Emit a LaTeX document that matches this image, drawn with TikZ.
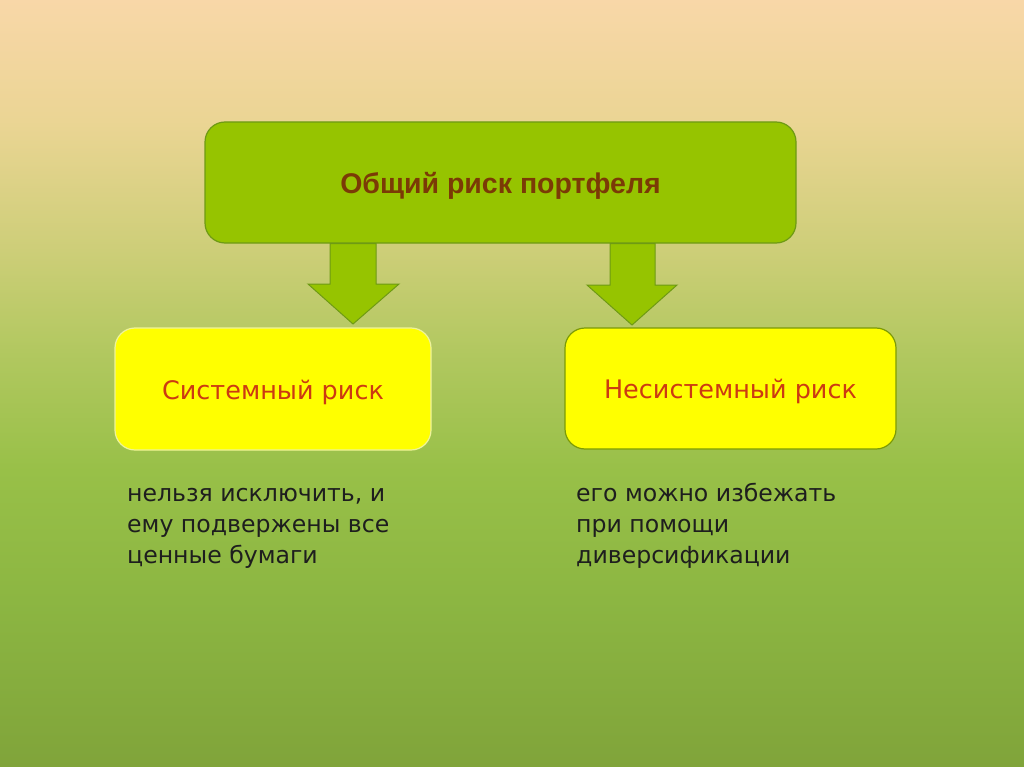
\documentclass[tikz,border=0pt]{standalone}
\usepackage{fontspec}
\setmainfont{DejaVu Sans}
\newfontfamily\titlefont{Liberation Sans}
\definecolor{bgA}{HTML}{F8D7A8}
\definecolor{bgB}{HTML}{EBD594}
\definecolor{bgC}{HTML}{CDCE78}
\definecolor{bgD}{HTML}{B2C860}
\definecolor{bgE}{HTML}{98C048}
\definecolor{bgF}{HTML}{8CB642}
\definecolor{bgG}{HTML}{80A43A}
\definecolor{greenfill}{HTML}{96C400}
\definecolor{greenline}{HTML}{6E9A14}
\definecolor{yellowfill}{HTML}{FFFF00}
\definecolor{paleline}{HTML}{EEF39A}
\definecolor{oliveline}{HTML}{7C9A06}
\definecolor{titlecol}{HTML}{7B3A06}
\definecolor{redtext}{HTML}{CC3A12}
\definecolor{bodytext}{HTML}{1E1E1E}
\newcommand{\lowered}[1]{\raisebox{-3pt}[\height][\depth]{#1}}
\tikzset{
  topbox/.style={draw=greenline, line width=1.2pt, fill=greenfill, rounded corners=20pt,
    minimum width=591pt, minimum height=121pt, inner sep=0pt,
    font=\titlefont\bfseries\fontsize{28.5}{32}\selectfont, text=titlecol},
  ybox/.style={line width=1.2pt, fill=yellowfill, rounded corners=20pt,
    inner sep=0pt, font=\fontsize{25.5}{30}\selectfont, text=redtext},
  barrow/.style={draw=greenline, line width=1pt, fill=greenfill, line join=miter},
  bodytxt/.style={anchor=north west, inner sep=0pt, align=left, text=bodytext,
    font=\fontsize{23.6}{31}\selectfont}
}
\begin{document}
\begin{tikzpicture}[x=1pt,y=-1pt]
\useasboundingbox (0,0) rectangle (1024,767);
% background gradient
\shade[top color=bgA, bottom color=bgB] (0,0) rectangle (1024,120.5);
\shade[top color=bgB, bottom color=bgC] (0,120) rectangle (1024,250.5);
\shade[top color=bgC, bottom color=bgD] (0,250) rectangle (1024,350.5);
\shade[top color=bgD, bottom color=bgE] (0,350) rectangle (1024,470.5);
\shade[top color=bgE, bottom color=bgF] (0,470) rectangle (1024,600.5);
\shade[top color=bgF, bottom color=bgG] (0,600) rectangle (1024,767);

% top box
\node[topbox] (top) at (500.5,182.5) {\lowered{Общий риск портфеля}};

% block arrows
\draw[barrow] (330,243.5) -- (376,243.5) -- (376,284) -- (399,284) -- (353,324)
  -- (308,284) -- (330,284) -- cycle;
\draw[barrow] (610,243.5) -- (655,243.5) -- (655,285) -- (677,285) -- (632,325)
  -- (587,285) -- (610,285) -- cycle;

% second level boxes
\node[ybox, draw=paleline, minimum width=316pt, minimum height=122pt] (sys) at (273,389) {\lowered{Системный риск}};
\node[ybox, draw=oliveline, minimum width=331pt, minimum height=121pt] (nsys) at (730.5,388.5) {\lowered{Несистемный риск}};

% descriptions
\node[bodytxt] (sysd) at (127,481) {\rule{0pt}{20pt}нельзя исключить, и\\ему подвержены все\\ценные бумаги};
\node[bodytxt] (nsysd) at (576,481) {\rule{0pt}{20pt}его можно избежать\\при помощи\\диверсификации};
\end{tikzpicture}
\end{document}
